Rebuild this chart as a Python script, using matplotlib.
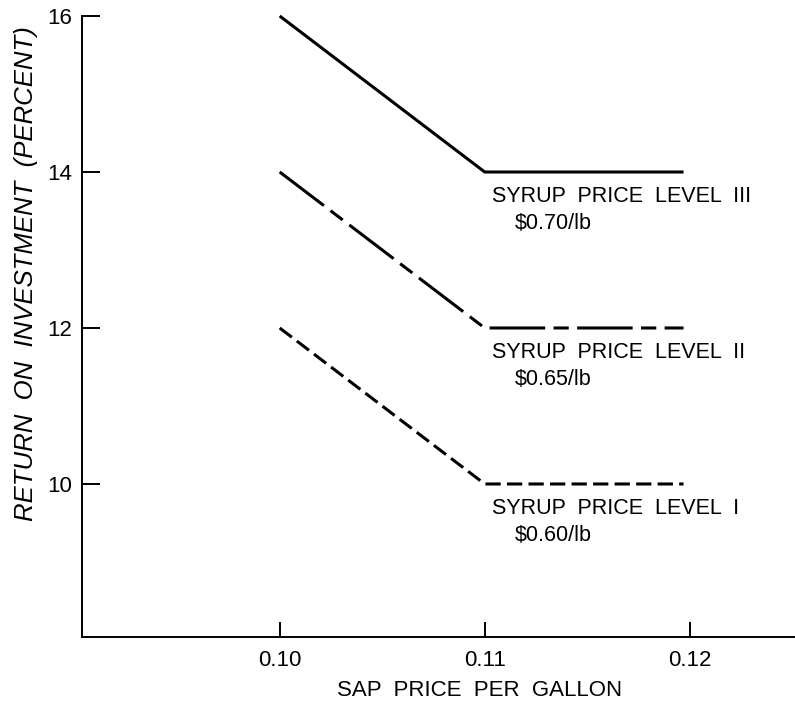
import matplotlib
matplotlib.use("Agg")
import matplotlib.pyplot as plt


# values
sap_price = [0.10, 0.11, 0.1197]
roi_level_3 = [16, 14, 14]
roi_level_2 = [14, 12, 12]
roi_level_1 = [12, 10, 10]
level_names = ["SYRUP  PRICE  LEVEL  III", "SYRUP  PRICE  LEVEL  II", "SYRUP  PRICE  LEVEL  I"]
syrup_prices = ["$0.70/lb", "$0.65/lb", "$0.60/lb"]
x_ticks = [0.10, 0.11, 0.12]
x_tick_labels = ["0.10", "0.11", "0.12"]
y_ticks = [10, 12, 14, 16]
y_tick_labels = ["10", "12", "14", "16"]


def plot_roi(path):
    plt.rcParams.update({
        "font.family": ["Liberation Sans", "DejaVu Sans"],
        "lines.scale_dashes": False,
    })
    fig = plt.figure(figsize=(7.95, 7.01), dpi=100)
    ax = fig.add_axes([82 / 795, 64 / 701, 713 / 795, 621 / 701])

    styles = [
        dict(linestyle="-"),
        dict(linestyle=(0, (40, 6, 11, 6))),
        dict(linestyle=(0, (11, 4.5))),
    ]
    series = [roi_level_3, roi_level_2, roi_level_1]
    for values, style, name, price in zip(series, styles, level_names, syrup_prices):
        ax.plot(sap_price, values, color="black", linewidth=2.2, clip_on=False,
                solid_capstyle="butt", dash_capstyle="butt", **style)
        ax.annotate(name, xy=(sap_price[1], values[1]), xytext=(5.5, -18),
                    textcoords="offset points", ha="left", va="center", fontsize=15.5)
        ax.annotate(price, xy=(sap_price[1], values[1]), xytext=(22, -37),
                    textcoords="offset points", ha="left", va="center", fontsize=15.5)

    ax.set_xlim(0.090356, 0.125137)
    ax.set_ylim(8.038, 16)
    ax.set_xticks(x_ticks, x_tick_labels, fontsize=16)
    ax.set_yticks(y_ticks, y_tick_labels, fontsize=16)
    ax.tick_params(axis="x", direction="in", length=11, width=1.4, pad=9)
    ax.tick_params(axis="y", direction="in", length=13, width=1.4, pad=7)

    for side in ["top", "right"]:
        ax.spines[side].set_visible(False)
    for side in ["left", "bottom"]:
        ax.spines[side].set_linewidth(1.4)

    ax.set_xlabel("SAP  PRICE  PER  GALLON", fontsize=16)
    ax.xaxis.set_label_coords(0.558, -0.069)
    ax.set_ylabel("RETURN  ON  INVESTMENT  (PERCENT)", fontsize=18.5, style="italic")
    ax.yaxis.set_label_coords(-0.062, 0.585)

    fig.savefig(path, dpi=100)
    plt.close(fig)


def main():
    plot_roi("out.png")


if __name__ == "__main__":
    main()
